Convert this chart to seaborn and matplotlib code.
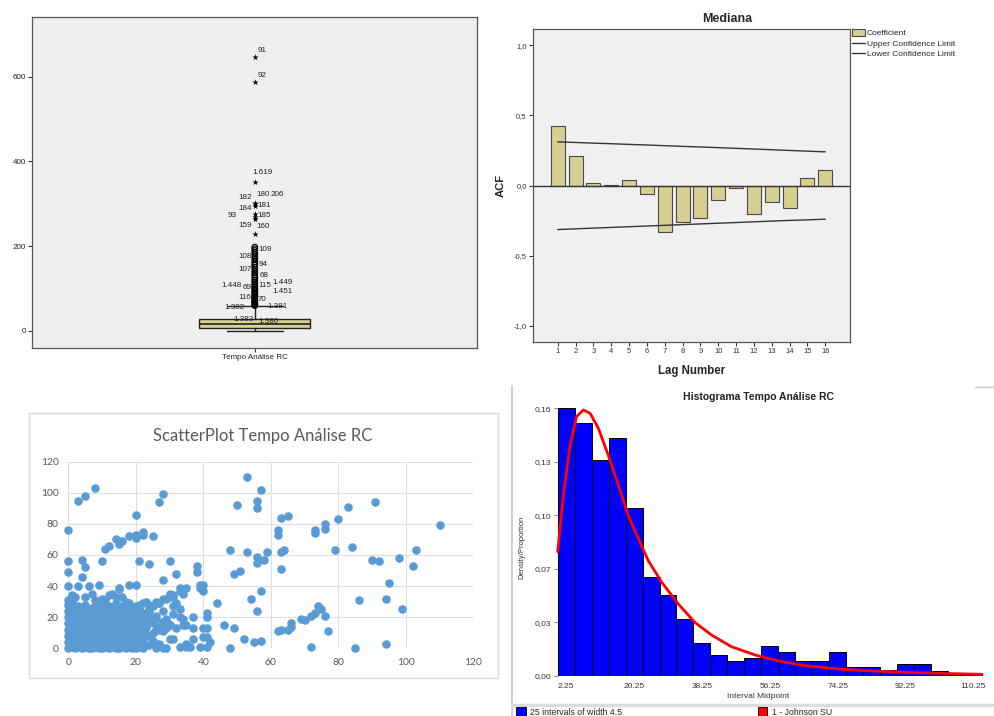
import numpy as np
import seaborn as sns
import matplotlib.pyplot as plt
from matplotlib.patches import Patch, Rectangle
from matplotlib.lines import Line2D

# ---- panel 1: SPSS boxplot (Tempo Análise RC) ----
box_q1, box_median, box_q3 = 7.8, 16.5, 27.6
whisker_lo, whisker_hi = 0, 59
outlier_values = [60, 61, 63, 65, 67, 69, 71, 73, 75, 78, 80, 82, 85, 88, 90, 93, 96, 99,
                  102, 105, 109, 112, 116, 120, 124, 128, 132, 137, 141, 146, 150, 155,
                  158, 163, 168, 172, 177, 182, 186, 190, 194, 198]
extreme_values = [228, 265, 270, 275, 296, 300, 303, 352, 587, 646]
case_labels = ["91", "92", "1.619", "182", "180", "206", "181", "184", "93", "185",
               "159", "160", "109", "108", "94", "107", "68", "1.448", "69", "115",
               "1.449", "1.451", "116", "70", "1.382", "1.381", "1.383", "1.380"]
case_label_y = [661, 602, 373, 316, 321, 322, 296, 288, 273, 273,
                250, 246, 192, 175, 156, 144, 130, 107, 103, 107,
                115, 92, 80, 74, 55, 58, 28, 23]
# horizontal offset of each label (pixels from the box centre)
case_label_dx = [3, 3, -2, -16, 1.4, 15.7, 2.4, -16, -26.7, 2.4,
                 -16, 1.4, 4, -16, 4, -16, 5, -33.3, -12.3, 4,
                 18, 18, -16, 2.4, -30.3, 12.4, -21, 3.4]

# ---- panel 2: ACF "Mediana" ----
lag_numbers = list(range(1, 17))
acf_values = [0.423, 0.211, 0.017, 0.005, 0.038, -0.059, -0.330, -0.257,
              -0.230, -0.105, -0.021, -0.202, -0.116, -0.164, 0.052, 0.112]
upper_limit = [0.311, 0.307, 0.302, 0.298, 0.293, 0.289, 0.284, 0.279,
               0.275, 0.270, 0.265, 0.260, 0.255, 0.250, 0.245, 0.240]
lower_limit = [-0.314, -0.309, -0.304, -0.299, -0.294, -0.289, -0.284, -0.279,
               -0.274, -0.269, -0.264, -0.259, -0.254, -0.249, -0.245, -0.240]
acf_ticks = [-1.0, -0.5, 0.0, 0.5, 1.0]
acf_ticklabels = ["-1,0", "-0,5", "0,0", "0,5", "1,0"]

# ---- panel 3: Excel scatter ----
cluster_points = [
    (0, 0), (1, 1), (2, 0), (3, 1), (4, 0), (5, 1), (6, 0), (7, 0), (8, 1), (9, 0), (10, 0),
    (11, 1), (12, 0), (13, 1), (14, 0), (15, 0), (16, 1), (17, 0), (18, 1), (19, 0), (20, 0),
    (21, 1), (22, 0),
    (0.5, 2), (2.5, 3), (4.5, 2), (6.5, 3), (8.5, 2), (10.5, 2), (12.5, 3), (14.5, 2), (16.5, 3),
    (18.5, 2), (20.5, 3),
    (0, 4), (1, 5), (3, 4), (5, 3), (6, 5), (8, 4), (10, 5), (11, 3), (13, 4), (15, 5), (17, 4),
    (18, 3), (20, 5), (22, 4),
    (1, 6), (3, 6.5), (5, 6), (7, 6), (9, 5.5), (11, 6), (13, 6.5), (15, 6), (17, 6), (19, 5.5),
    (21, 6),
    (0, 8), (2, 8), (4, 7), (5, 9), (7, 8), (9, 7), (11, 9), (12, 8), (14, 7), (16, 8), (18, 9),
    (19, 7), (21, 8), (23, 9),
    (1, 10), (3, 10), (5, 10.5), (7, 10), (9, 10), (11, 10.5), (13, 10), (15, 10), (17, 10),
    (19, 10), (21, 10),
    (0, 12), (1, 13), (3, 11), (5, 12), (7, 13), (8, 11), (10, 12), (12, 13), (14, 11), (15, 13),
    (17, 12), (19, 11), (20, 13), (22, 12),
    (1, 14), (3, 14.5), (5, 14), (7, 15), (9, 13.5), (11, 14), (13, 14.5), (15, 14), (17, 14),
    (19, 14), (21, 14),
    (0, 16), (2, 17), (4, 15), (6, 16), (8, 17), (9, 15), (11, 16), (13, 17), (15, 15), (16, 17),
    (18, 16), (20, 15), (21, 17), (23, 16),
    (1, 18), (3, 18), (5, 18), (7, 18.5), (9, 18), (11, 18), (13, 18), (15, 18.5), (17, 18),
    (19, 18), (21, 18.5),
    (0, 20), (1, 21), (3, 19), (5, 20), (7, 21), (8, 19), (10, 20), (12, 21), (14, 19), (16, 20),
    (18, 21), (20, 19), (22, 21), (24, 20),
    (1, 22), (3, 22), (5, 22.5), (7, 22), (9, 22), (11, 21.5), (13, 22), (15, 22), (17, 22),
    (19, 22), (21, 22),
    (0, 24), (2, 25), (4, 23), (6, 24), (9, 25), (11, 23), (13, 24), (15, 25), (17, 23), (19, 24),
    (21, 25), (23, 23),
    (1, 26), (3, 25), (5, 26), (8, 27), (11, 26), (14, 26), (18, 26), (21, 26),
    (0, 28), (1, 30), (3, 27), (5, 28), (7, 26), (10, 29), (12, 27), (14, 29), (16, 27), (18, 29),
    (20, 27), (22, 29), (24, 28),
    (0, 31), (2, 33), (8, 31), (11, 31), (14, 33), (17, 30), (13, 35), (16, 33), (1, 34), (10, 32),
]
band_points = [
    (39, 1), (41, 1), (41, 13), (40, 13), (41, 20), (41, 23), (42, 4), (40, 7), (41, 7), (37, 13),
    (37, 20), (34, 15), (31, 6), (33, 1), (35, 1), (35, 3), (36, 1), (28, 0), (29, 0), (26, 0),
    (25, 5), (26, 12), (27, 14), (28, 11), (29, 13), (30, 15), (29, 19), (33, 20), (34, 19),
    (31, 27), (32, 29), (30, 33), (31, 34), (29, 32), (27, 29), (26, 30), (23, 30), (26, 21),
    (24, 24), (21, 28), (20, 24), (19, 21), (17, 19), (30, 35), (31, 33), (33, 37), (34, 38),
    (28, 32), (27, 29), (25, 27), (24, 25), (23, 23), (26, 19), (28, 17), (30, 15), (32, 13),
    (35, 15), (37, 6), (30, 6), (24, 8), (27, 12), (40, 41), (39, 39), (25, 16), (23, 14),
    (24, 2), (22, 6), (27, 3), (31, 22), (33, 25), (28, 24), (25, 10),
]
sparse_points = [
    (0, 76), (3, 95), (5, 98), (8, 103), (0, 56), (0, 49), (0, 40), (4, 57), (5, 52), (4, 46),
    (3, 40), (6, 40), (9, 41), (5, 33), (7, 35), (10, 56), (11, 64), (12, 66), (14, 70), (15, 67),
    (16, 69), (18, 72), (20, 71), (20, 73), (22, 75), (22, 73), (25, 72), (20, 86), (21, 56),
    (24, 54), (18, 41), (20, 41), (15, 39), (27, 94), (28, 99), (30, 56), (28, 44), (32, 48),
    (38, 53), (38, 49), (39, 41), (40, 37), (44, 29), (33, 39), (35, 39), (34, 35),
    (46, 15), (49, 13), (48, 0), (52, 6), (55, 4), (57, 5), (56, 24), (54, 32), (57, 37),
    (49, 48), (51, 50), (48, 63), (53, 62), (56, 59), (56, 55), (58, 57), (59, 62), (50, 92),
    (53, 110), (56, 95), (56, 90), (57, 102), (62, 76), (62, 73), (63, 84), (65, 85), (63, 62),
    (64, 63), (63, 51), (62, 11), (63, 12), (65, 12), (66, 16), (66, 14), (69, 19), (70, 18),
    (72, 21), (73, 23), (74, 27), (75, 25), (76, 21), (77, 11), (72, 1), (73, 76), (73, 74),
    (76, 80), (76, 77), (80, 83), (79, 63), (83, 91), (84, 65), (86, 31), (85, 0), (90, 57),
    (92, 56), (91, 94), (95, 42), (94, 32), (94, 3), (98, 58), (99, 25), (102, 53), (103, 63),
    (110, 79), (12, 34), (15, 38), (1, 30),
]
scatter_ticks = [0, 20, 40, 60, 80, 100, 120]

# ---- panel 4: histogram + Johnson SU fit ----
bin_midpoints = [2.25 + 4.5 * i for i in range(25)]
bin_density = [0.160, 0.151, 0.129, 0.142, 0.1006, 0.0592, 0.0486, 0.0341, 0.0195, 0.0124,
               0.0088, 0.0108, 0.0179, 0.0143, 0.0088, 0.0088, 0.0143, 0.0054, 0.0052, 0.0036,
               0.0070, 0.0070, 0.0032, 0.0005, 0.0020]
johnson_x = [0, 1.5, 3.3, 5.0, 6.8, 8.6, 10.8, 13.4, 16.1, 18.7, 21.4, 24.0, 27.6, 32.0,
             36.4, 40.8, 46.1, 52.3, 58.5, 65.6, 74.4, 83.3, 92.1, 101.0, 112.5]
johnson_y = [0.0743, 0.108, 0.138, 0.155, 0.159, 0.157, 0.148, 0.132, 0.114, 0.096, 0.082,
             0.069, 0.056, 0.043, 0.032, 0.0245, 0.0175, 0.0126, 0.009, 0.0062, 0.0042,
             0.003, 0.0022, 0.0016, 0.001]
hist_yticks = [0.0, 0.032, 0.064, 0.096, 0.128, 0.16]
hist_yticklabels = ["0,00", "0,03", "0,07", "0,10", "0,13", "0,16"]

W, H = 994, 716


def add_ax(fig, left, top, right, bottom):
    return fig.add_axes([left / W, 1 - bottom / H, (right - left) / W, (bottom - top) / H])


def fig_text(fig, x, y, s, **kw):
    fig.text(x / W, 1 - y / H, s, **kw)


sns.set_theme(style="white")
plt.rcParams['font.family'] = ['Liberation Sans', 'DejaVu Sans']

fig = plt.figure(figsize=(W / 100, H / 100), dpi=100)
fig.patch.set_facecolor('white')

# ---------- panel 1 ----------
ax1 = add_ax(fig, 32.3, 17.3, 477.3, 347.7)
ax1.set_facecolor('#efefef')
stats = [dict(med=box_median, q1=box_q1, q3=box_q3, whislo=whisker_lo, whishi=whisker_hi, fliers=[])]
ax1.bxp(stats, positions=[0], widths=0.5, capwidths=0.25, patch_artist=True,
        boxprops=dict(facecolor='#d8d294', edgecolor='#222222', linewidth=1),
        medianprops=dict(color='#222222', linewidth=1.2),
        whiskerprops=dict(color='#222222', linewidth=1),
        capprops=dict(color='#222222', linewidth=1))
ax1.scatter(np.zeros(len(outlier_values)), outlier_values, s=16, facecolors='none',
            edgecolors='black', linewidths=0.8, zorder=3)
ax1.scatter(np.zeros(len(extreme_values)), extreme_values, s=22, marker='*',
            color='black', linewidths=0, zorder=3)
for lab, yv, dx in zip(case_labels, case_label_y, case_label_dx):
    ax1.annotate(lab, xy=(0, yv), xytext=(dx * 0.72, 0), textcoords='offset points',
                 ha='left', va='center', fontsize=5.8, color='#222222')
ax1.set_xlim(-1, 1)
ax1.set_ylim(-39.4, 740)
ax1.set_yticks([0, 200, 400, 600])
ax1.set_xticks([0])
ax1.set_xticklabels(["Tempo Análise RC"])
ax1.tick_params(axis='both', direction='out', length=3, width=0.8, color='#333333',
                labelsize=5.8, labelcolor='#222222', pad=1.5, left=True, bottom=True)
for sp in ax1.spines.values():
    sp.set_color('#555555')
    sp.set_linewidth(0.9)

# ---------- panel 2 ----------
ax2 = add_ax(fig, 533, 29.3, 850, 341.7)
ax2.set_facecolor('#f0f0f0')
sns.barplot(x=lag_numbers, y=acf_values, color='#d6cf91', saturation=1, edgecolor='#4a4a4a',
            linewidth=0.8, width=0.78, ax=ax2)
lag_pos = np.arange(len(lag_numbers))
sns.lineplot(x=lag_pos, y=upper_limit, color='#333333', linewidth=1, ax=ax2)
sns.lineplot(x=lag_pos, y=lower_limit, color='#333333', linewidth=1, ax=ax2)
ax2.axhline(0, color='#333333', linewidth=1, zorder=1)
ax2.set_xlim(-1.385, 16.385)
ax2.set_ylim(-1.114, 1.114)
ax2.set_yticks(acf_ticks)
ax2.set_yticklabels(acf_ticklabels)
ax2.set_xlabel("Lag Number", fontsize=8.3, fontweight='bold', labelpad=7)
ax2.set_ylabel("ACF", fontsize=8.1, fontweight='bold', labelpad=6)
ax2.tick_params(axis='both', direction='out', length=3, width=0.8, color='#333333',
                labelsize=5.5, labelcolor='#333333', pad=1.5, left=True, bottom=True)
for sp in ax2.spines.values():
    sp.set_color('#555555')
    sp.set_linewidth(0.9)
fig_text(fig, 727, 19, "Mediana", ha='center', va='center', fontsize=9, fontweight='bold')
acf_handles = [Patch(facecolor='#d6cf91', edgecolor='#4a4a4a', linewidth=0.8),
               Line2D([], [], color='#333333', linewidth=1),
               Line2D([], [], color='#333333', linewidth=1)]
fig.legend(acf_handles, ["Coefficient", "Upper Confidence Limit", "Lower Confidence Limit"],
           loc='upper left', bbox_to_anchor=(852 / W, 1 - 29 / H), frameon=False, fontsize=6,
           handlelength=1.6, handleheight=0.9, handletextpad=0.2, labelspacing=0.25,
           borderaxespad=0, borderpad=0)

# ---------- panel 3 ----------
fig.add_artist(Rectangle((29 / W, 1 - 678 / H), (498 - 29) / W, (678 - 413) / H,
                         transform=fig.transFigure, facecolor='white', edgecolor='#d9d9d9',
                         linewidth=1, zorder=0))
ax3 = add_ax(fig, 68.3, 461.7, 473.3, 648.3)
ax3.set_facecolor('none')
all_points = cluster_points + band_points + sparse_points
scatter_x = [p[0] for p in all_points]
scatter_y = [p[1] for p in all_points]
sns.scatterplot(x=scatter_x, y=scatter_y, color='#5b9bd5', s=38, linewidth=0, alpha=1,
                ax=ax3, clip_on=False, zorder=3)
ax3.set_xlim(0, 120)
ax3.set_ylim(0, 120)
ax3.set_xticks(scatter_ticks)
ax3.set_yticks(scatter_ticks)
ax3.grid(True, color='#dedede', linewidth=0.8)
ax3.set_axisbelow(True)
for sp in ax3.spines.values():
    sp.set_visible(False)
ax3.tick_params(axis='both', length=0, pad=7, labelsize=7.5, labelcolor='#595959')
for lab in ax3.get_xticklabels() + ax3.get_yticklabels():
    lab.set_fontfamily('Lato')
fig_text(fig, 263, 436, "ScatterPlot Tempo Análise RC", ha='center', va='center',
         fontsize=12, color='#595959', fontfamily='Lato')

# ---------- panel 4 ----------
ax4 = add_ax(fig, 557.7, 408.3, 984, 676)
ax4.set_facecolor('white')
sns.histplot(x=bin_midpoints, weights=bin_density, bins=25, binrange=(0, 112.5),
             color='#0000ff', edgecolor='black', linewidth=0.7, alpha=1, ax=ax4)
sns.lineplot(x=johnson_x, y=johnson_y, color='#ff0000', linewidth=2, ax=ax4,
             clip_on=False, zorder=5)
ax4.set_xlim(0, 113.05)
ax4.set_ylim(0, 0.16)
ax4.set_xticks(bin_midpoints[::4])
ax4.set_xticklabels([f"{v:.2f}" for v in bin_midpoints[::4]])
ax4.set_yticks(hist_yticks)
ax4.set_yticklabels(hist_yticklabels)
ax4.set_xlabel("")
ax4.set_ylabel("")
for sp in ax4.spines.values():
    sp.set_visible(False)
ax4.tick_params(axis='y', direction='out', length=3, width=0.8, color='#888888',
                labelsize=6, labelcolor='#333333', pad=1.5, left=True)
ax4.tick_params(axis='x', length=0, labelsize=6, labelcolor='#333333', pad=5)
fig_text(fig, 758, 397, "Histograma Tempo Análise RC", ha='center', va='center',
         fontsize=7.5, fontweight='bold', color='#222222')
fig_text(fig, 758, 697, "Interval Midpoint", ha='center', va='center', fontsize=6,
         color='#333333')
fig_text(fig, 522, 547, "Density/Proportion", ha='center', va='center', fontsize=5.5,
         rotation=90, color='#333333')
hist_handles = [Patch(facecolor='#0000ff', edgecolor='black', linewidth=0.6),
                Patch(facecolor='#ff0000', edgecolor='black', linewidth=0.6)]
fig.legend(hist_handles, ["25 intervals of width 4.5", "1 - Johnson SU"], loc='center left',
           bbox_to_anchor=(516 / W, 1 - 712 / H), ncol=2, frameon=False, fontsize=6.3,
           handlelength=1.1, handleheight=1.1, handletextpad=0.5, columnspacing=15.5,
           borderaxespad=0, borderpad=0)

# separators of the composite picture
fig.add_artist(Line2D([511.7 / W, 511.7 / W], [0, 1 - 386 / H], color='#c8c8c8', linewidth=1.2))
fig.add_artist(Line2D([511.7 / W, 1], [1 - 704.5 / H, 1 - 704.5 / H], color='#dcdcdc',
                      linewidth=2.5))
fig.add_artist(Line2D([975 / W, 1], [1 - 387 / H, 1 - 387 / H], color='#c8c8c8', linewidth=1))

fig.savefig("out.png", dpi=100)
